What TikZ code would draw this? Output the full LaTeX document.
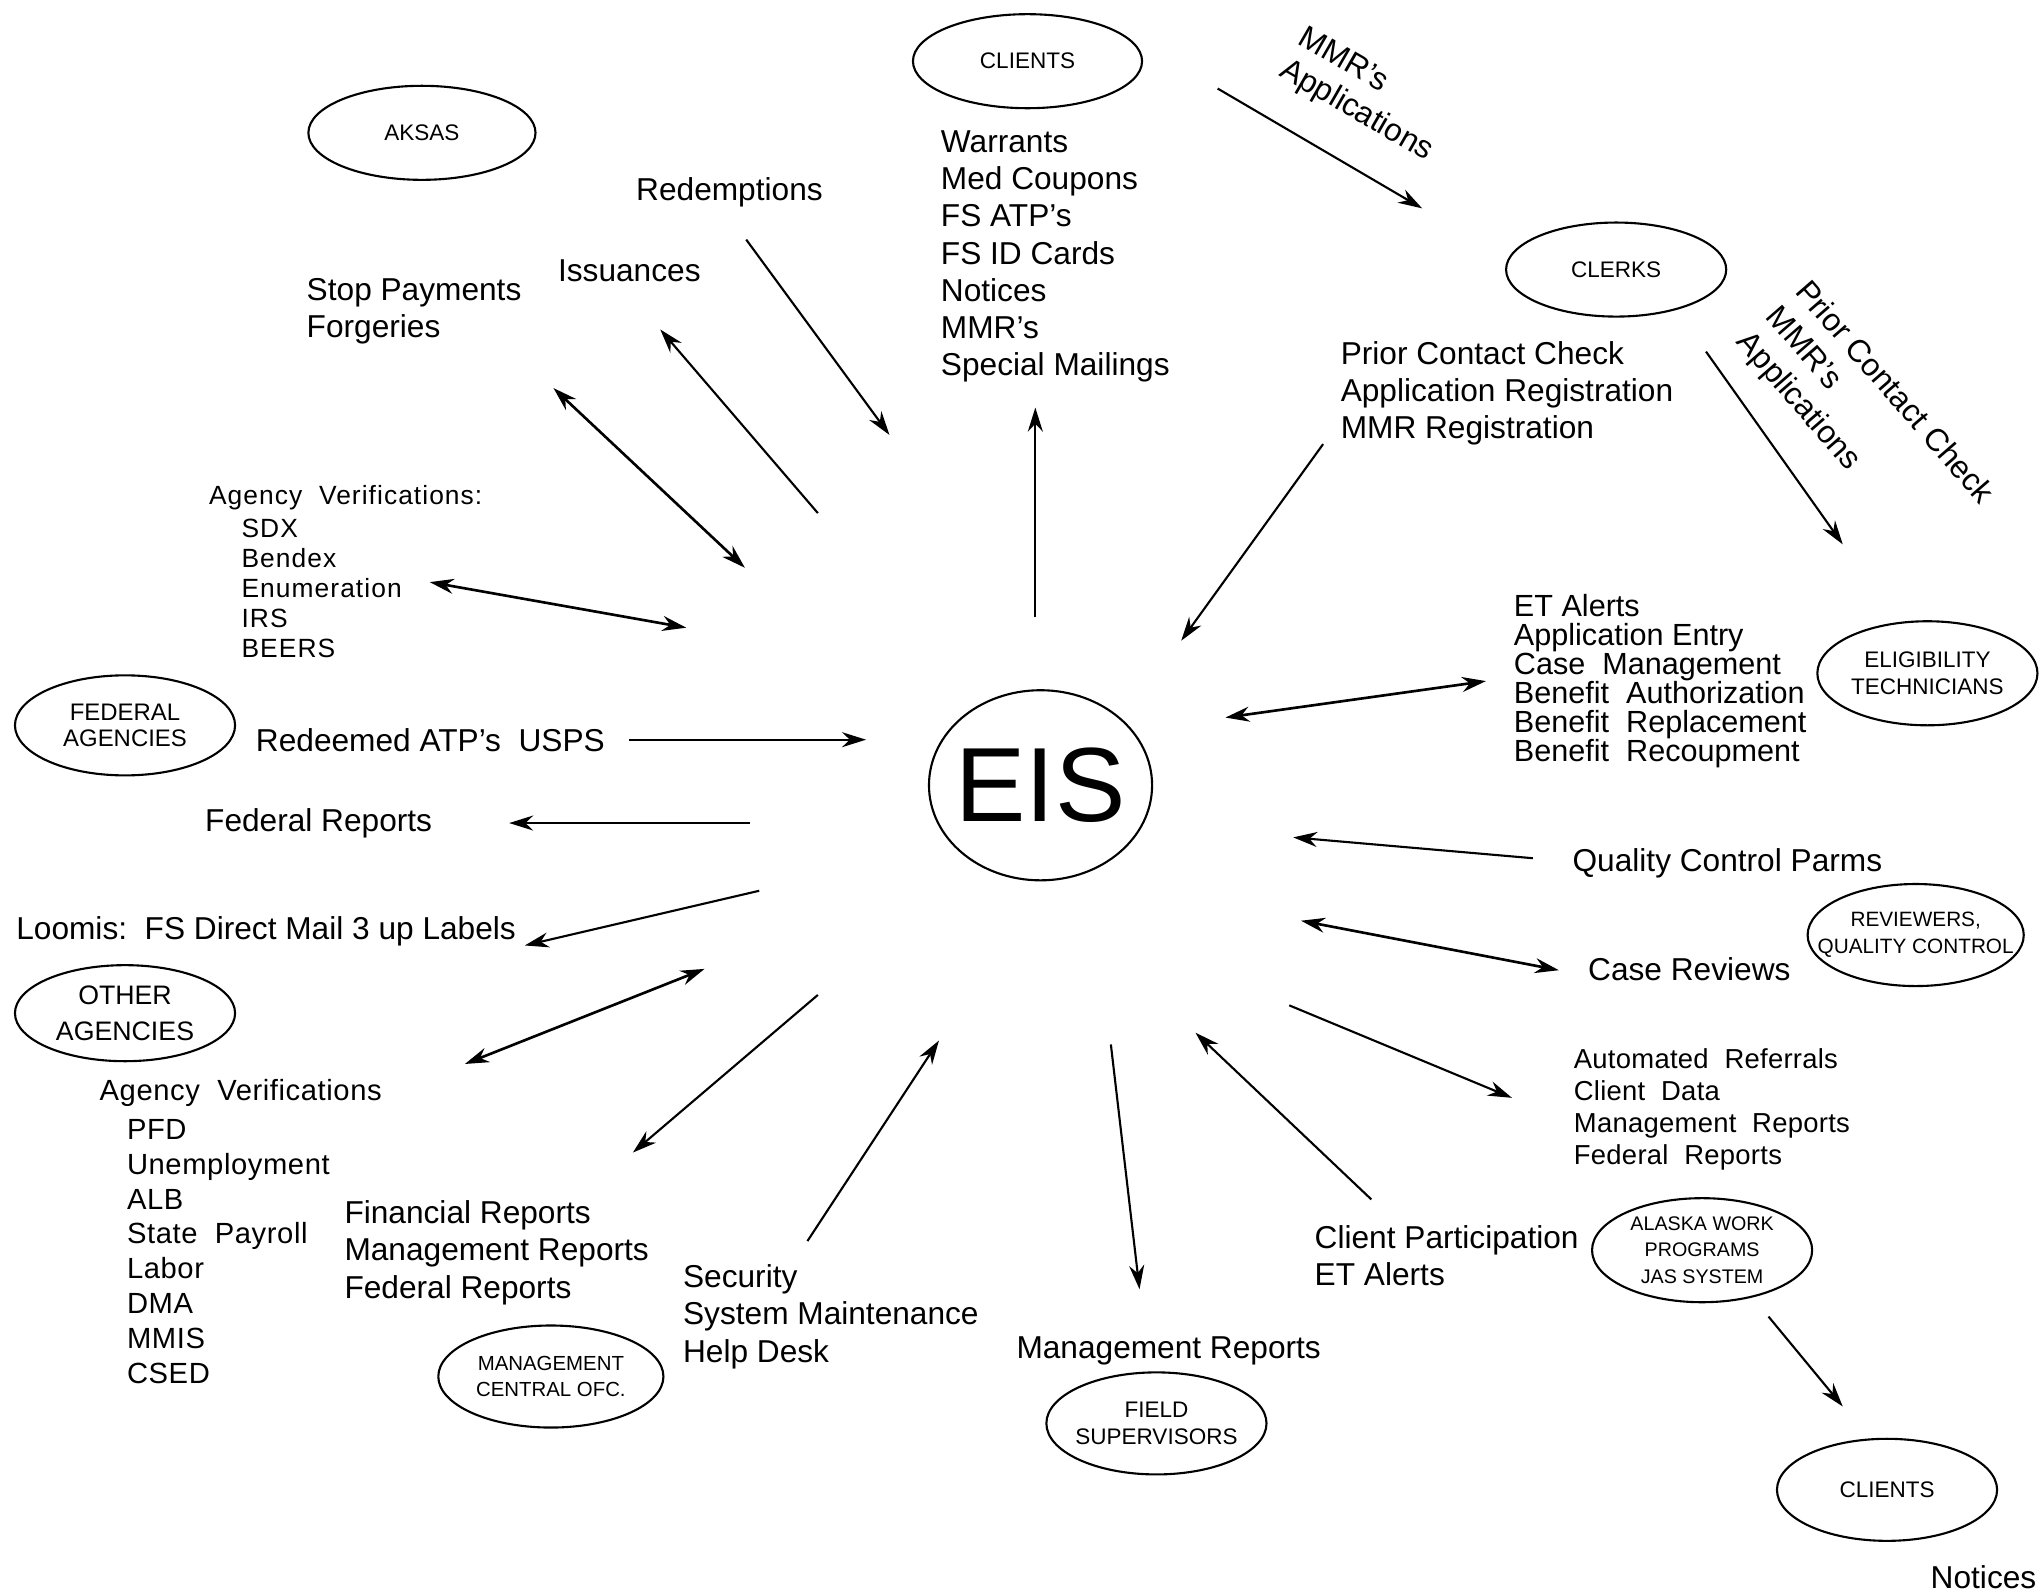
\documentclass[tikz,border=0pt]{standalone}
\usepackage{fontspec}
\setmainfont{Liberation Sans}
\usetikzlibrary{arrows.meta,positioning,shapes.geometric}

\begin{document}
\begin{tikzpicture}[
  x=0.013023cm, y=-0.013023cm,
  >={Stealth[length=2.4mm,width=1.5mm]},
  party/.style={ellipse,draw,line width=0.6pt,minimum width=2.2cm,
    minimum height=1cm,inner xsep=-5mm,inner ysep=-3mm,align=center,
    font=\fontsize{6.4}{7.6}\selectfont},
  flowtext/.style={anchor=west,align=left,inner sep=0pt,
    font=\fontsize{9}{10.6}\selectfont},
  smalllist/.style={flowtext,
    font=\fontsize{7.5}{8.5}\selectfont\addfontfeatures{LetterSpace=4}},
  agencylist/.style={flowtext,
    font=\fontsize{8.3}{9.9}\selectfont\addfontfeatures{LetterSpace=2}},
  flow/.style={->,line width=0.6pt},
  both/.style={<->,line width=0.75pt}
]
  \useasboundingbox (0,0) rectangle (1568,1222);

  \node[party,minimum width=2.29cm,minimum height=0.94cm] (clients) at (789,47) {CLIENTS};
  \node[party,minimum width=2.27cm,minimum height=0.94cm] (aksas) at (324,102) {AKSAS};
  \node[party,minimum height=0.94cm] (clerks) at (1241,207) {CLERKS};
  \node[party,minimum height=1.04cm] (elig) at (1480,517) {ELIGIBILITY\\TECHNICIANS};
  \node[party,font=\fontsize{6.8}{7.6}\selectfont] (federal) at (96,557) {FEDERAL\\AGENCIES};
  \node[party,minimum width=2.23cm,minimum height=1.9cm,
    font=\fontsize{30}{30}\selectfont] (eis) at (799,603) {EIS};
  \node[party,minimum width=2.16cm,minimum height=1.02cm,
    font=\fontsize{5.9}{7.6}\selectfont] (reviewers) at (1471,718) {REVIEWERS,\\QUALITY CONTROL};
  \node[party,minimum height=0.96cm,font=\fontsize{7.6}{10.3}\selectfont] (other) at (96,778) {OTHER\\AGENCIES};
  \node[party,minimum width=2.25cm,minimum height=1.02cm,
    font=\fontsize{5.8}{7.6}\selectfont] (central) at (423,1057) {MANAGEMENT\\CENTRAL OFC.};
  \node[party,minimum height=1.02cm] (field) at (888,1093) {FIELD\\SUPERVISORS};
  \node[party,minimum height=1.04cm,font=\fontsize{5.6}{7.6}\selectfont] (awp) at (1307,960) {ALASKA WORK\\PROGRAMS\\JAS SYSTEM};
  \node[party,minimum height=1.02cm] (clientsb) at (1449,1144) {CLIENTS};

  \node[flowtext] (mailings) at (722,197) {Warrants\\Med Coupons\\FS ATP's\\FS ID Cards\\Notices\\MMR's\\Special Mailings};
  \node[flowtext] (redemptions) at (488,148) {Redemptions};
  \node[flowtext] (issuances) at (428,208) {Issuances};
  \node[flowtext] (stops) at (235,239) {Stop Payments\\Forgeries};
  \node[flowtext,anchor=north west,rotate=-30] (mmrapps) at (1004,18) {MMR's\\Applications};
  \node[flowtext] (registration) at (1029,302) {Prior Contact Check\\Application Registration\\MMR Registration};
  \node[flowtext,anchor=north west,rotate=-49,
    font=\fontsize{9}{11}\selectfont] (priorcheck) at (1391,212) {Prior Contact Check\\MMR's\\Applications};
  \node[smalllist] (verifyhdr) at (160,382) {Agency~~Verifications:};
  \node[smalllist] (verify) at (185,452) {SDX\\Bendex\\Enumeration\\IRS\\BEERS};
  \node[flowtext,font=\fontsize{8.7}{8.2}\selectfont] (etwork) at (1162,523) {ET Alerts\\Application Entry\\Case~~Management\\Benefit~~Authorization\\Benefit~~Replacement\\Benefit~~Recoupment};
  \node[flowtext] (redeemed) at (196,568) {Redeemed ATP's~~USPS};
  \node[flowtext] (fedreports) at (157,632) {Federal Reports};
  \node[flowtext] (qcparms) at (1207,663) {Quality Control Parms};
  \node[flowtext] (loomis) at (12,715) {Loomis:~~FS Direct Mail 3 up Labels};
  \node[flowtext] (reviews) at (1219,744) {Case Reviews};
  \node[agencylist] (otherhdr) at (76,839) {Agency~~Verifications};
  \node[agencylist] (othervfy) at (97,961) {PFD\\Unemployment\\ALB\\State~~Payroll\\Labor\\DMA\\MMIS\\CSED};
  \node[flowtext,font=\fontsize{7.8}{9.1}\selectfont\addfontfeatures{LetterSpace=1}] (referrals) at (1208,852) {Automated~~Referrals\\Client~~Data\\Management~~Reports\\Federal~~Reports};
  \node[flowtext] (financial) at (264,962) {Financial Reports\\Management Reports\\Federal Reports};
  \node[flowtext] (security) at (524,1011) {Security\\System Maintenance\\Help Desk};
  \node[flowtext] (participation) at (1009,964) {Client Participation\\ET Alerts};
  \node[flowtext] (mgmtreports) at (780,1037) {Management Reports};
  \node[flowtext] (notices) at (1482,1211) {Notices};

  \coordinate (redemp1) at (573,184);   \coordinate (redemp2) at (683,334);
  \coordinate (issue1) at (628,394);    \coordinate (issue2) at (507,253);
  \coordinate (stop1) at (425,298);     \coordinate (stop2) at (572,436);
  \coordinate (vfy1) at (330,447);      \coordinate (vfy2) at (527,482);
  \coordinate (mail1) at (795,474);     \coordinate (mail2) at (795,313);
  \coordinate (mmr1) at (935,68);       \coordinate (mmr2) at (1092,160);
  \coordinate (reg1) at (1016,341);     \coordinate (reg2) at (907,492);
  \coordinate (prior1) at (1310,270);   \coordinate (prior2) at (1415,418);
  \coordinate (et1) at (941,551);       \coordinate (et2) at (1141,523);
  \coordinate (atp1) at (483,568);      \coordinate (atp2) at (665,568);
  \coordinate (fed1) at (576,632);      \coordinate (fed2) at (391,632);
  \coordinate (qc1) at (1177,659);      \coordinate (qc2) at (993,643);
  \coordinate (case1) at (999,707);     \coordinate (case2) at (1197,745);
  \coordinate (loomis1) at (583,684);   \coordinate (loomis2) at (403,726);
  \coordinate (other1) at (541,744);    \coordinate (other2) at (357,817);
  \coordinate (fin1) at (628,764);      \coordinate (fin2) at (486,885);
  \coordinate (sec1) at (620,953);      \coordinate (sec2) at (721,799);
  \coordinate (field1) at (853,802);    \coordinate (field2) at (875,990);
  \coordinate (part1) at (1053,921);    \coordinate (part2) at (918,793);
  \coordinate (ref1) at (990,772);      \coordinate (ref2) at (1161,843);
  \coordinate (awp1) at (1358,1011);    \coordinate (awp2) at (1415,1080);

  \draw[flow] (redemp1) -- (redemp2);
  \draw[flow] (issue1) -- (issue2);
  \draw[both] (stop1) -- (stop2);
  \draw[both] (vfy1) -- (vfy2);
  \draw[flow] (mail1) -- (mail2);
  \draw[flow] (mmr1) -- (mmr2);
  \draw[flow] (reg1) -- (reg2);
  \draw[flow] (prior1) -- (prior2);
  \draw[both] (et1) -- (et2);
  \draw[flow] (atp1) -- (atp2);
  \draw[flow] (fed1) -- (fed2);
  \draw[flow] (qc1) -- (qc2);
  \draw[both] (case1) -- (case2);
  \draw[flow] (loomis1) -- (loomis2);
  \draw[both] (other1) -- (other2);
  \draw[flow] (fin1) -- (fin2);
  \draw[flow] (sec1) -- (sec2);
  \draw[flow] (field1) -- (field2);
  \draw[flow] (part1) -- (part2);
  \draw[flow] (ref1) -- (ref2);
  \draw[flow] (awp1) -- (awp2);
\end{tikzpicture}
\end{document}
